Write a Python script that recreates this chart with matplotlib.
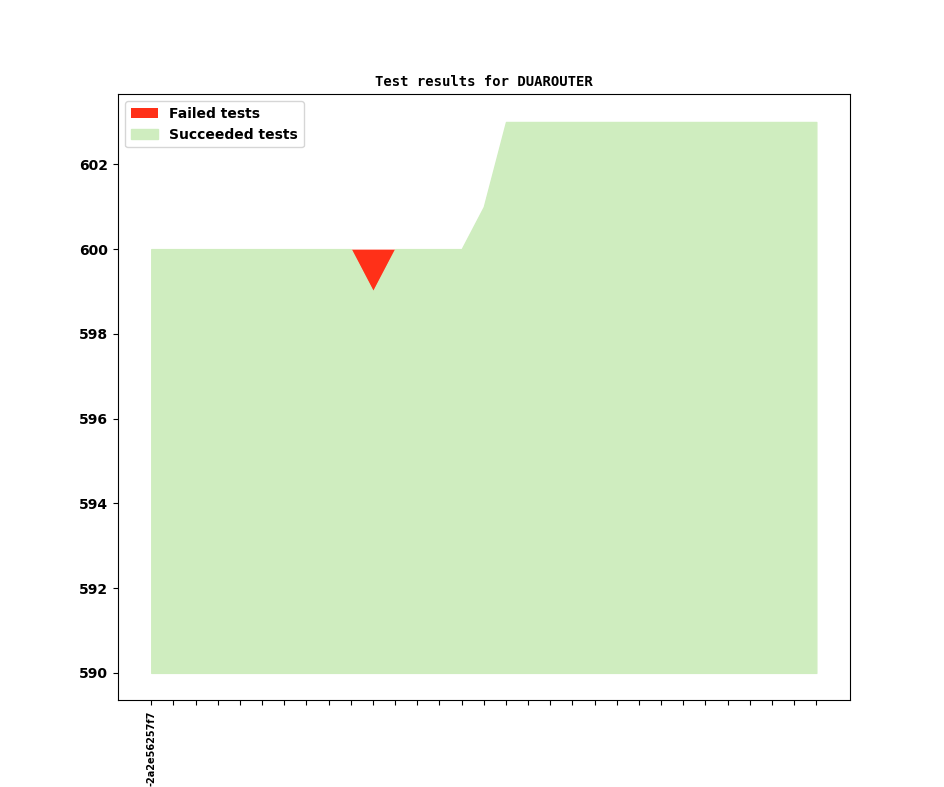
import numpy as np
import matplotlib
matplotlib.use('Agg')
import matplotlib.pyplot as plt

# test counts per build
revisions = ['-2a2e56257f7'] + [''] * 30
total = [600] * 15 + [601] + [603] * 15
failed = [0] * 31
failed[10] = 1
succeeded = [t - f for t, f in zip(total, failed)]

x = np.arange(len(revisions))
base = min(succeeded) - 9

fig = plt.figure(figsize=(9.44, 7.87), dpi=100)
ax = fig.add_subplot(111)
ax.fill_between(x, succeeded, total, color='#ff3018', linewidth=0, label='Failed tests')
ax.fill_between(x, base, succeeded, color='#cfedbf', label='Succeeded tests')

ax.set_title('Test results for DUAROUTER', fontsize=10, fontweight='bold', family='DejaVu Sans Mono')
ax.set_xticks(x)
ax.set_xticklabels(revisions, rotation=90, fontsize=7, fontweight='bold')
for lbl in ax.get_yticklabels():
    lbl.set_fontweight('bold')
ax.legend(loc='upper left', prop={'weight': 'bold'})

plt.savefig('out.png', dpi=100)
